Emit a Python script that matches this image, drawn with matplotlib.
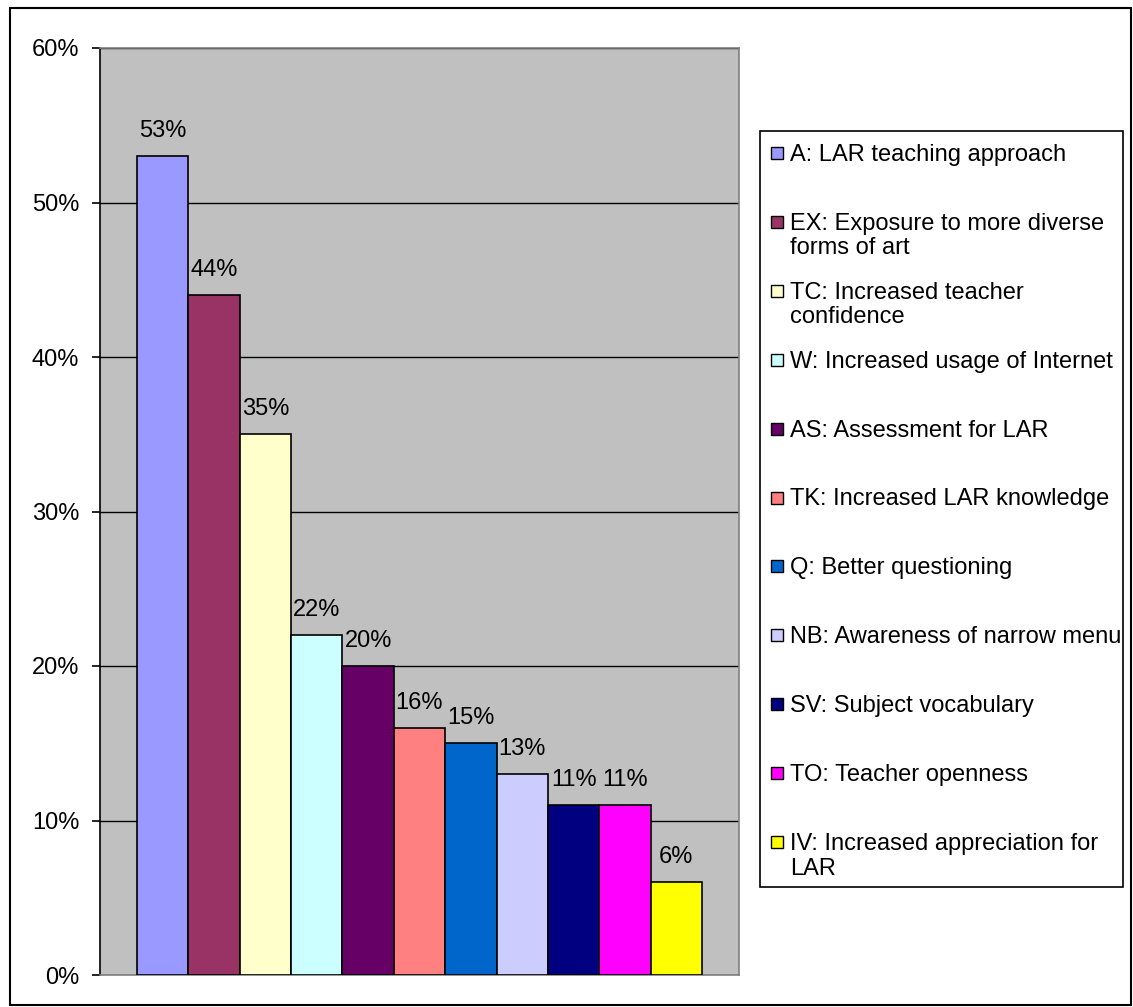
import matplotlib
matplotlib.use("Agg")
import matplotlib.pyplot as plt
from matplotlib.patches import Rectangle

plt.rcParams['font.family'] = ['Liberation Sans', 'DejaVu Sans']

# data
codes = ["A", "EX", "TC", "W", "AS", "TK", "Q", "NB", "SV", "TO", "IV"]
labels = ["A: LAR teaching approach",
          "EX: Exposure to more diverse\nforms of art",
          "TC: Increased teacher\nconfidence",
          "W: Increased usage of Internet",
          "AS: Assessment for LAR",
          "TK: Increased LAR knowledge",
          "Q: Better questioning",
          "NB: Awareness of narrow menu",
          "SV: Subject vocabulary",
          "TO: Teacher openness",
          "IV: Increased appreciation for\nLAR"]
values = [53, 44, 35, 22, 20, 16, 15, 13, 11, 11, 6]
colors = ["#9999FF", "#993366", "#FFFFCC", "#CCFFFF", "#660066", "#FF8080",
          "#0066CC", "#CCCCFF", "#000080", "#FF00FF", "#FFFF00"]
yticks = [0, 10, 20, 30, 40, 50, 60]

FS = 17
W, H = 1133, 1007
fig = plt.figure(figsize=(W / 100, H / 100), dpi=100)

# outer border of the chart
fig.patches.append(Rectangle((10 / W, 2 / H), (W - 12) / W, (H - 10) / H,
                             transform=fig.transFigure, fill=False,
                             edgecolor="black", linewidth=1.5))

ax = fig.add_axes([100 / W, 32 / H, 639 / W, 927 / H])
ax.set_facecolor("#C0C0C0")

n = len(values)
pad = 0.72
x = list(range(n))
ax.bar(x, values, width=1.0, color=colors, edgecolor="black", linewidth=1.2, zorder=3)
for xi, v in zip(x, values):
    ax.annotate(f"{v}%", (xi, v), xytext=(0, 18), textcoords="offset points",
                ha="center", va="center", fontsize=FS, zorder=4)

ax.set_xlim(-0.5 - pad, n - 0.5 + pad)
ax.set_ylim(0, 60)
ax.set_yticks(yticks)
ax.set_yticklabels([f"{t}%" for t in yticks], fontsize=FS)
ax.set_xticks([])
ax.yaxis.grid(True, color="black", linewidth=1.0, zorder=1)
ax.set_axisbelow(True)
ax.tick_params(axis="y", length=6, width=1.2, pad=9, direction="out")
ax.spines["left"].set_color("black")
ax.spines["left"].set_linewidth(1.2)
for s in ["top", "right", "bottom"]:
    ax.spines[s].set_color("#808080")
    ax.spines[s].set_linewidth(1.2)

# legend box
lx0, ly0, lx1, ly1 = 760, 131, 1123, 887
fig.patches.append(Rectangle((lx0 / W, 1 - ly1 / H), (lx1 - lx0) / W, (ly1 - ly0) / H,
                             transform=fig.transFigure, facecolor="white",
                             edgecolor="black", linewidth=1.2))
for i, (lab, c) in enumerate(zip(labels, colors)):
    yc = 153 + i * 68.9
    fig.patches.append(Rectangle((771 / W, 1 - (yc + 6) / H), 12 / W, 12 / H,
                                 transform=fig.transFigure, facecolor=c,
                                 edgecolor="black", linewidth=1.0))
    fig.text(790 / W, 1 - (yc - 9) / H, lab, fontsize=FS, ha="left", va="top",
             linespacing=1.15)

fig.savefig("out.png", dpi=100)
